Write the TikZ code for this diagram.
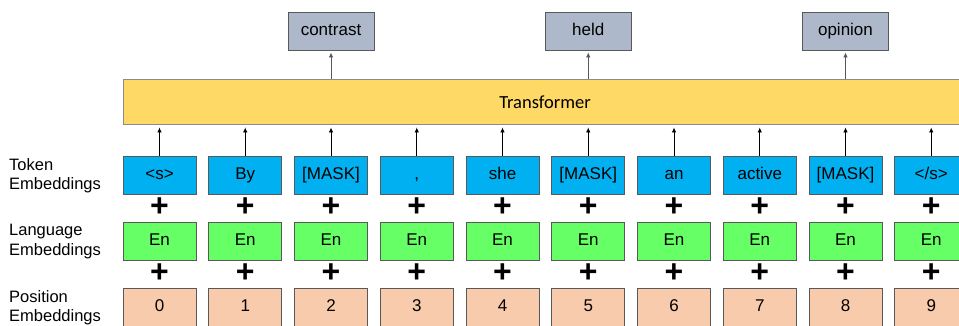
\documentclass[tikz,border=0pt]{standalone}
\usepackage{fontspec}
\setmainfont{Liberation Sans}
\newfontfamily\calibrifont{Carlito}
\usepackage{tikz}
\usetikzlibrary{arrows.meta,positioning}

\definecolor{tokblue}{HTML}{00B0F0}
\definecolor{langgreen}{HTML}{66FF66}
\definecolor{pospeach}{HTML}{F8CBAD}
\definecolor{outgray}{HTML}{ADB9CA}
\definecolor{transgold}{HTML}{FFD966}
\definecolor{boxedge}{HTML}{595959}

\begin{document}
\begin{tikzpicture}[x=1pt,y=-1pt,
    emb/.style={draw=boxedge,line width=0.9pt,minimum width=73pt,minimum height=38pt,
      inner sep=0pt,text height=12pt,text depth=3pt,font=\fontsize{17}{19}\selectfont},
    tokbox/.style={emb,fill=tokblue},
    langbox/.style={emb,fill=langgreen},
    posbox/.style={emb,fill=pospeach},
    outbox/.style={emb,fill=outgray,minimum width=86pt},
    plussign/.style={inner sep=0pt,font=\fontsize{32}{32}\selectfont\bfseries},
    rowlabel/.style={anchor=west,align=left,inner sep=0pt,font=\fontsize{16.5}{19.5}\selectfont},
    uparrow/.style={-{Latex[length=5pt,width=4.5pt]},line width=0.8pt}]
  \useasboundingbox (0,0) rectangle (959,325);

  % transformer block
  \node[draw=boxedge!70,fill=transgold,line width=0.9pt,minimum width=844pt,minimum height=45pt,
    inner sep=0pt] (trans) at (545,101.5) {};
  \node[font=\calibrifont\fontsize{18.5}{20}\selectfont] (translabel) at (545,102) {Transformer};

  % row labels
  \node[rowlabel] (toklabel) at (9,175.5) {Token\\Embeddings};
  \node[rowlabel] (langlabel) at (9,241.5) {Language\\Embeddings};
  \node[rowlabel] (poslabel) at (9,307.5) {Position\\Embeddings};

  % embedding columns
  \foreach \word [count=\i from 0] in {{<s>},By,{[MASK]},{,},she,{[MASK]},an,active,{[MASK]},{</s>}} {
    \node[tokbox] (tok\i) at (159.5+85.75*\i,175) {\word};
    \node[langbox] (lang\i) at (159.5+85.75*\i,241) {En};
    \node[posbox] (pos\i) at (159.5+85.75*\i,307) {\i};
    \node[plussign] (plusa\i) at (159.5+85.75*\i,207.5) {+};
    \node[plussign] (plusb\i) at (159.5+85.75*\i,273.5) {+};
    \draw[uparrow] (tok\i.north) -- ([yshift=-3pt]tok\i.north |- trans.south);
  }

  % predicted words
  \node[outbox] (outa) at (tok2 |- 0,31) {contrast};
  \node[outbox] (outb) at (tok5 |- 0,31) {held};
  \node[outbox] (outc) at (tok8 |- 0,31) {opinion};
  \foreach \o in {outa,outb,outc}
    \draw[uparrow,boxedge] (\o |- trans.north) -- ([yshift=-2pt]\o.south);
\end{tikzpicture}
\end{document}
